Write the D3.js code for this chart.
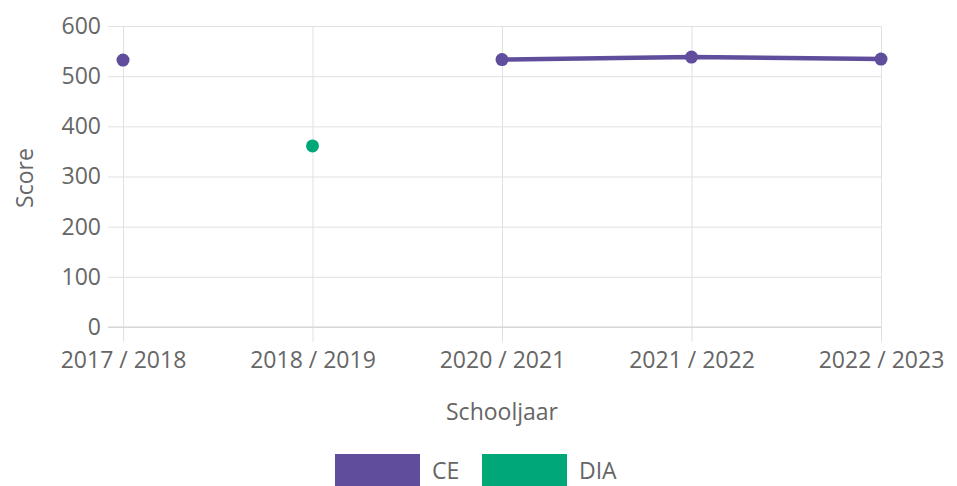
<!DOCTYPE html>
<html>
<head>
<meta charset="utf-8">
<script src="https://cdn.jsdelivr.net/npm/d3@7"></script>
<style>
  body { margin: 0; background: #fff; }
  text { font-family: "Open Sans", sans-serif; fill: #666; }
</style>
</head>
<body>
<div id="chart"></div>
<script>
const schoolYears = ["2017 / 2018", "2018 / 2019", "2020 / 2021", "2021 / 2022", "2022 / 2023"];
const ceScores = [532, null, 533, 538, 534];
const diaScores = [null, 361, null, null, null];
const yTicks = [0, 100, 200, 300, 400, 500, 600];
const seriesNames = ["CE", "DIA"];
const seriesColors = ["#604e9d", "#00a878"];

const svgWidth = 957;
const svgHeight = 486;
const margin = { top: 26, right: 76, bottom: 159, left: 123 };
const width = svgWidth - margin.left - margin.right;
const height = svgHeight - margin.top - margin.bottom;
const fontSize = 23;

const svg = d3.select("#chart")
    .append("svg")
    .attr("width", svgWidth)
    .attr("height", svgHeight);

const chartGroup = svg.append("g")
    .attr("transform", `translate(${margin.left},${margin.top})`);

// Scales
const xScale = d3.scalePoint()
    .domain(schoolYears)
    .range([0, width]);

const yScale = d3.scaleLinear().domain([0, 600]).range([height, 0]);

// Grid + axes
const yAxis = chartGroup.append("g")
    .call(d3.axisLeft(yScale).tickValues(yTicks).tickSize(-width - 15).tickPadding(7))
    .attr("transform", "translate(-15,0)");
yAxis.select(".domain").remove();
yAxis.selectAll("line").attr("stroke", "#e1e1e1").attr("x1", 0).attr("x2", width + 15);
yAxis.selectAll("text").attr("font-size", fontSize).attr("fill", "#666");

const xAxis = chartGroup.append("g")
    .attr("transform", `translate(0,${height})`)
    .call(d3.axisBottom(xScale).tickSize(15).tickPadding(8));
xAxis.select(".domain").remove();
xAxis.selectAll("line")
    .attr("stroke", "#e1e1e1")
    .attr("y1", -height)
    .attr("y2", 15);
xAxis.selectAll("text").attr("font-size", fontSize).attr("fill", "#666").attr("dy", "0.8em");

// zero line slightly darker
chartGroup.append("line")
    .attr("x1", -15).attr("x2", width)
    .attr("y1", yScale(0)).attr("y2", yScale(0))
    .attr("stroke", "#d0d0d0");

// Lines and points
const allSeries = [ceScores, diaScores];
allSeries.forEach((values, i) => {
    const pts = values.map((v, j) => ({ x: schoolYears[j], y: v }));
    const line = d3.line()
        .defined(d => d.y !== null)
        .x(d => xScale(d.x))
        .y(d => yScale(d.y));
    chartGroup.append("path")
        .datum(pts)
        .attr("fill", "none")
        .attr("stroke", seriesColors[i])
        .attr("stroke-width", 4.5)
        .attr("d", line);
    chartGroup.selectAll(".pt" + i)
        .data(pts.filter(d => d.y !== null))
        .enter()
        .append("circle")
        .attr("cx", d => xScale(d.x))
        .attr("cy", d => yScale(d.y))
        .attr("r", 6.5)
        .attr("fill", seriesColors[i]);
});

// X-axis Label
svg.append("text")
    .attr("x", margin.left + width / 2)
    .attr("y", 420)
    .attr("text-anchor", "middle")
    .attr("font-size", fontSize)
    .text("Schooljaar");

// Y-axis Label
svg.append("text")
    .attr("transform", "rotate(-90)")
    .attr("x", -178)
    .attr("y", 33)
    .attr("text-anchor", "middle")
    .attr("font-size", fontSize)
    .text("Score");

// Legend
const legendX = [335, 482];
seriesNames.forEach((name, i) => {
    svg.append("rect")
        .attr("x", legendX[i])
        .attr("y", 454)
        .attr("width", 85)
        .attr("height", 34)
        .attr("fill", seriesColors[i]);
    svg.append("text")
        .attr("x", legendX[i] + 97)
        .attr("y", 479)
        .attr("font-size", fontSize)
        .text(name);
});
</script>
</body>
</html>
